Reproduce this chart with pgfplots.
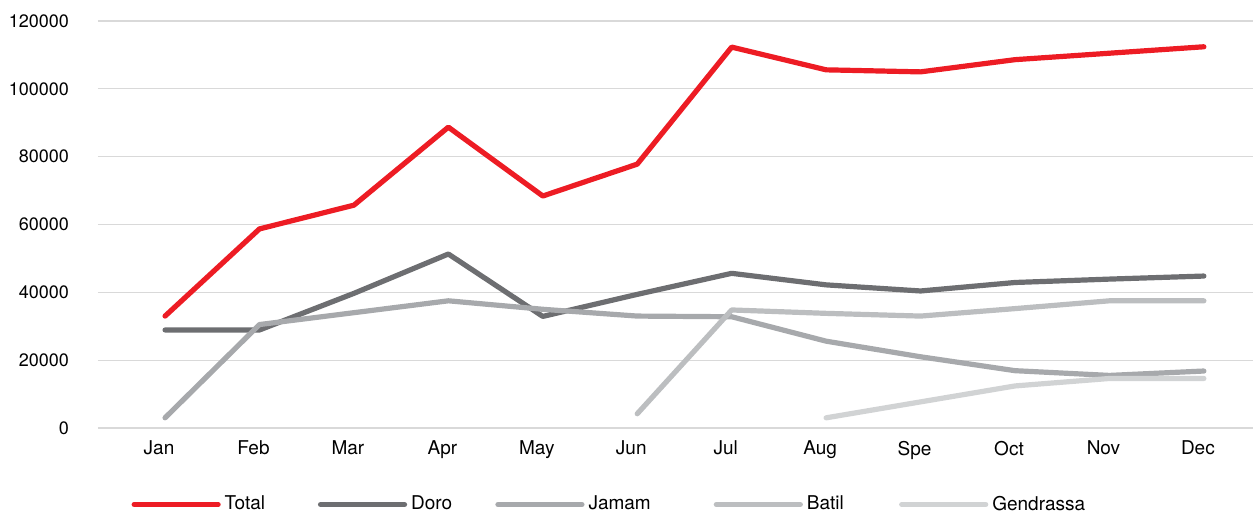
\documentclass[border=0pt]{standalone}
\usepackage{fontspec}
\setmainfont{TeX Gyre Heros}
\usepackage{pgfplots}
\pgfplotsset{compat=1.18}
\definecolor{cTotal}{HTML}{ED1C24}
\definecolor{cDoro}{HTML}{6D6E71}
\definecolor{cJamam}{HTML}{A7A9AC}
\definecolor{cBatil}{HTML}{BCBEC0}
\definecolor{cGend}{HTML}{D1D3D4}
\definecolor{cGrid}{HTML}{D9D9D9}
\begin{document}
\begin{tikzpicture}
\useasboundingbox (-49pt,-42.5pt) rectangle (577.5pt,214pt);
\begin{axis}[
  scale only axis,
  width=577.5pt, height=203.5pt,
  xmin=-0.71, xmax=11.52,
  ymin=0, ymax=120000,
  ytick={0,20000,...,120000},
  xtick={0,...,11},
  xticklabels={Jan,Feb,Mar,Apr,May,Jun,Jul,Aug,Spe,Oct,Nov,Dec},
  axis line style={draw=none},
  major tick length=0pt,
  ymajorgrids,
  grid style={cGrid, line width=0.6pt},
  scaled y ticks=false,
  /pgf/number format/assume math mode=true,
  yticklabel={\pgfmathprintnumber[fixed,use comma,1000 sep={}]{\tick}},
  tick label style={font=\fontsize{9}{11}\selectfont, text=black},
  yticklabel style={xshift=-11pt},
  xticklabel style={xshift=-3pt, yshift=-3pt, font=\fontsize{9.5}{11}\selectfont},
  every axis plot/.append style={line width=2.6pt, line cap=round, line join=round},
  legend columns=5,
  legend style={draw=none, fill=none, at={(0.0235,-0.188)}, anchor=west,
    font=\fontsize{9.5}{11}\selectfont, /tikz/every even column/.append style={column sep=0pt},
    /tikz/every odd column/.append style={column sep=0pt}},
  legend cell align=left,
  legend image code/.code={\draw[#1] (0pt,0pt) -- (42pt,0pt);},
]
\addplot[cTotal] coordinates {(0,33000)(1,58700)(2,65700)(3,88700)(4,68400)(5,77800)(6,112300)(7,105600)(8,105000)(9,108600)(10,110500)(11,112400)};
\addlegendentry{\makebox[44.6pt][l]{Total}}
\addplot[cDoro] coordinates {(0,28900)(1,28900)(2,39700)(3,51300)(4,32900)(5,39400)(6,45600)(7,42200)(8,40400)(9,42900)(10,43900)(11,44800)};
\addlegendentry{\makebox[40.1pt][l]{Doro}}
\addplot[cJamam] coordinates {(0,3000)(1,30500)(2,34000)(3,37500)(4,35000)(5,33000)(6,32800)(7,25600)(8,21000)(9,16900)(10,15500)(11,16800)};
\addlegendentry{\makebox[60.6pt][l]{Jamam}}
\addplot[cBatil] coordinates {(5,4200)(6,34800)(7,33800)(8,33000)(9,35200)(10,37500)(11,37500)};
\addlegendentry{\makebox[44.1pt][l]{Batil}}
\addplot[cGend] coordinates {(7,3000)(8,7700)(9,12400)(10,14600)(11,14600)};
\addlegendentry{Gendrassa}
\end{axis}
\end{tikzpicture}
\end{document}
